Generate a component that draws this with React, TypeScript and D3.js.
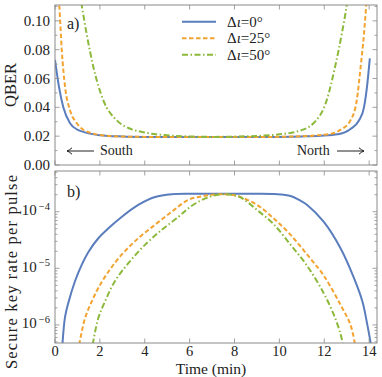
import React from 'react';
import * as d3 from 'd3';

// axis ticks
const timeTicks = [0, 2, 4, 6, 8, 10, 12, 14];
const qberTicks = [0, 0.02, 0.04, 0.06, 0.08, 0.1];
const qberMinor = [0.01, 0.03, 0.05, 0.07, 0.09, 0.11];
const rateExps = [-6, -5, -4];

// legend
const legendAngles = ['0°', '25°', '50°'];
const colors = ['#5a7dbd', '#f2a330', '#8cb93b'];
const dashes = [null, '4.5,2.5', '6,2.5,1.5,2.5'];

// panel a) QBER vs time, [min, QBER]
const qber0: [number, number][] = [
  [0, 0.073], [0.18, 0.054], [0.37, 0.04], [0.67, 0.029], [1.0, 0.0245], [1.3, 0.0228],
  [2.0, 0.0207], [3.0, 0.0198], [4.0, 0.0195], [5.5, 0.0194], [7.0, 0.0194], [8.5, 0.0194],
  [10.0, 0.0195], [11.0, 0.0198], [11.85, 0.0203], [12.6, 0.0213], [13.17, 0.025],
  [13.55, 0.031], [13.77, 0.04], [13.92, 0.0565], [14.03, 0.074],
];
const qber25: [number, number][] = [
  [0.1, 0.13], [0.19, 0.111], [0.3, 0.08], [0.45, 0.054], [0.67, 0.038], [0.97, 0.029],
  [1.56, 0.0224], [2.45, 0.0201], [3.5, 0.0196], [5.0, 0.0194], [7.0, 0.0194], [9.0, 0.0194],
  [10.5, 0.0197], [11.83, 0.0208], [12.4, 0.022], [12.73, 0.0245], [13.17, 0.031],
  [13.45, 0.045], [13.62, 0.068], [13.77, 0.091], [13.87, 0.111], [13.96, 0.13],
];
const qber50: [number, number][] = [
  [1.0, 0.13], [1.19, 0.111], [1.41, 0.091], [1.71, 0.068], [2.15, 0.045], [2.75, 0.031],
  [3.3, 0.0255], [3.85, 0.023], [5.0, 0.0206], [6.0, 0.0198], [7.0, 0.0195], [8.0, 0.0197],
  [9.0, 0.0202], [10.0, 0.0213], [10.78, 0.0232], [11.52, 0.029], [12.11, 0.045],
  [12.48, 0.068], [12.78, 0.091], [13.0, 0.111], [13.15, 0.13],
];

// panel b) secure key rate per pulse vs time, [min, rate]
const rate0: [number, number][] = [
  [0.33, 4.5e-7], [0.45, 1.4e-6], [0.6, 2.5e-6], [0.89, 5.9e-6], [1.19, 1.15e-5],
  [1.49, 1.95e-5], [1.93, 3.4e-5], [2.38, 5.1e-5], [2.97, 8.1e-5], [3.71, 1.32e-4],
  [4.46, 1.82e-4], [5.2, 2.04e-4], [6.0, 2.08e-4], [7.0, 2.08e-4], [8.0, 2.08e-4],
  [9.0, 2.08e-4], [9.8, 2.05e-4], [10.5, 1.9e-4], [10.9, 1.6e-4], [11.24, 1.32e-4],
  [11.98, 6.6e-5], [12.73, 2.24e-5], [13.32, 6.8e-6], [13.7, 2.6e-6], [13.92, 1.0e-6],
  [14.08, 4.5e-7],
];
const rate25: [number, number][] = [
  [1.08, 4.5e-7], [1.34, 1.32e-6], [1.64, 2.6e-6], [1.93, 4.5e-6], [2.38, 8.7e-6],
  [2.97, 1.74e-5], [3.71, 3.4e-5], [4.46, 5.9e-5], [5.2, 1.0e-4], [5.94, 1.62e-4],
  [6.5, 1.86e-4], [7.0, 2.0e-4], [7.5, 2.04e-4], [8.0, 1.95e-4], [8.26, 1.82e-4],
  [9.01, 1.32e-4], [9.75, 7.6e-5], [10.5, 3.9e-5], [11.24, 1.74e-5], [11.98, 7.4e-6],
  [12.73, 2.24e-6], [13.17, 1.0e-6], [13.37, 4.5e-7],
];
const rate50: [number, number][] = [
  [1.68, 4.5e-7], [1.93, 1.32e-6], [2.23, 2.6e-6], [2.67, 5.9e-6], [3.27, 1.23e-5],
  [4.01, 2.6e-5], [4.76, 4.8e-5], [5.5, 8.1e-5], [5.94, 1.15e-4], [6.5, 1.58e-4],
  [7.0, 1.9e-4], [7.5, 2.04e-4], [8.0, 1.95e-4], [8.29, 1.78e-4], [9.01, 1.07e-4],
  [9.75, 6.0e-5], [10.5, 2.6e-5], [11.24, 1.1e-5], [11.98, 3.6e-6], [12.43, 1.5e-6],
  [12.73, 6.8e-7], [12.83, 4.5e-7],
];

const W = 382;
const H = 377;
const font = '"Liberation Serif", "DejaVu Serif", serif';
const frameColor = '#8a8a8a';

export default function App() {
  const x = d3.scaleLinear().domain([0, 14.35]).range([55, 377]);
  const yA = d3.scaleLinear().domain([0, 0.111]).range([165, 5]);
  const yB = d3.scaleLog().domain([Math.pow(10, -6.32), Math.pow(10, -3.28)]).range([343, 171]);

  const lineA = d3.line<[number, number]>()
    .x(d => x(d[0]))
    .y(d => yA(d[1]))
    .curve(d3.curveMonotoneX);
  const lineB = d3.line<[number, number]>()
    .x(d => x(d[0]))
    .y(d => yB(d[1]))
    .curve(d3.curveCatmullRom.alpha(0.5));

  const qberSeries = [qber0, qber25, qber50];
  const rateSeries = [rate0, rate25, rate50];

  const [ax0, ax1] = x.range();
  const [aBot, aTop] = yA.range();
  const [bBot, bTop] = yB.range();

  // minor log ticks 2..9 per decade
  const rateMinor: number[] = [];
  for (let e = -7; e <= -4; e++) {
    for (let m = 2; m <= 9; m++) {
      const v = m * Math.pow(10, e);
      if (v > yB.domain()[0] && v < yB.domain()[1]) rateMinor.push(v);
    }
  }

  const tick = (key: string, x1: number, y1: number, x2: number, y2: number) => (
    <line key={key} x1={x1} y1={y1} x2={x2} y2={y2} stroke={frameColor} strokeWidth={0.8} />
  );

  const arrow = (x1: number, x2: number, y: number) => {
    const d = x2 > x1 ? 1 : -1;
    return (
      <g stroke="#222" strokeWidth={1} fill="none">
        <line x1={x1} y1={y} x2={x2} y2={y} />
        <path d={`M${x2 - d * 5},${y - 3.2} Q${x2 - d * 2},${y - 0.5} ${x2},${y} Q${x2 - d * 2},${y + 0.5} ${x2 - d * 5},${y + 3.2}`} />
      </g>
    );
  };

  return (
    <svg width={W} height={H} style={{ position: 'absolute', left: 0, top: 0, background: '#fff' }}
      fontFamily={font}>
      <defs>
        <clipPath id="clipA"><rect x={ax0} y={aTop} width={ax1 - ax0} height={aBot - aTop} /></clipPath>
        <clipPath id="clipB"><rect x={ax0} y={bTop} width={ax1 - ax0} height={bBot - bTop} /></clipPath>
      </defs>

      {/* panel a */}
      <g clipPath="url(#clipA)">
        {qberSeries.map((s, i) => (
          <path key={i} d={lineA(s) || ''} fill="none" stroke={colors[i]} strokeWidth={2}
            strokeDasharray={dashes[i] || undefined} />
        ))}
      </g>
      <rect x={ax0} y={aTop} width={ax1 - ax0} height={aBot - aTop} fill="none" stroke={frameColor} strokeWidth={1} />
      {timeTicks.map(t => (
        <g key={'ta' + t}>
          {tick('b', x(t), aBot, x(t), aBot - 4.5)}
          {tick('t', x(t), aTop, x(t), aTop + 4.5)}
        </g>
      ))}
      {qberTicks.map(v => (
        <g key={'qa' + v}>
          {tick('l', ax0, yA(v), ax0 + 4.5, yA(v))}
          {tick('r', ax1, yA(v), ax1 - 4.5, yA(v))}
          <text x={50} y={yA(v) + 5} textAnchor="end" fontSize={15} fill="#222">{v.toFixed(2)}</text>
        </g>
      ))}
      {qberMinor.map(v => (
        <g key={'qm' + v}>
          {tick('l', ax0, yA(v), ax0 + 2.5, yA(v))}
          {tick('r', ax1, yA(v), ax1 - 2.5, yA(v))}
        </g>
      ))}
      <text transform="translate(16,85) rotate(-90)" textAnchor="middle" fontSize={16.5} fill="#222">QBER</text>
      <text x={67} y={29} fontSize={16} fill="#222">a)</text>

      {/* legend */}
      {legendAngles.map((a, i) => (
        <g key={'lg' + i}>
          <line x1={182} x2={216} y1={21.7 + i * 16.5} y2={21.7 + i * 16.5} stroke={colors[i]} strokeWidth={2}
            strokeDasharray={dashes[i] || undefined} />
          <text x={227} y={26.5 + i * 16.5} fontSize={15} fill="#222">
            Δ<tspan fontStyle="italic">ι</tspan>={a}
          </text>
        </g>
      ))}

      {/* direction labels */}
      {arrow(94, 67, 151)}
      <text x={100} y={155} fontSize={14} fill="#222">South</text>
      <text x={297} y={155} fontSize={14} fill="#222">North</text>
      {arrow(337, 364, 151)}

      {/* panel b */}
      <g clipPath="url(#clipB)">
        {rateSeries.map((s, i) => (
          <path key={i} d={lineB(s) || ''} fill="none" stroke={colors[i]} strokeWidth={2}
            strokeDasharray={dashes[i] || undefined} />
        ))}
      </g>
      <rect x={ax0} y={bTop} width={ax1 - ax0} height={bBot - bTop} fill="none" stroke={frameColor} strokeWidth={1} />
      {timeTicks.map(t => (
        <g key={'tb' + t}>
          {tick('b', x(t), bBot, x(t), bBot - 4.5)}
          {tick('t', x(t), bTop, x(t), bTop + 4.5)}
          <text x={x(t)} y={355.5} textAnchor="middle" fontSize={14.5} fill="#222">{t}</text>
        </g>
      ))}
      {rateExps.map(e => {
        const v = Math.pow(10, e);
        return (
          <g key={'rb' + e}>
            {tick('l', ax0, yB(v), ax0 + 4.5, yB(v))}
            {tick('r', ax1, yB(v), ax1 - 4.5, yB(v))}
            <text x={50} y={yB(v) + 3.5} textAnchor="end" fontSize={15} fill="#222">
              10<tspan dy={-5.5} fontSize={10.5} dx={2}>{'−' + Math.abs(e)}</tspan>
            </text>
          </g>
        );
      })}
      {rateMinor.map((v, i) => (
        <g key={'rm' + i}>
          {tick('l', ax0, yB(v), ax0 + 2.5, yB(v))}
          {tick('r', ax1, yB(v), ax1 - 2.5, yB(v))}
        </g>
      ))}
      <text transform="translate(16.5,272) rotate(-90)" textAnchor="middle" fontSize={16.5} fill="#222"
        textLength={194} lengthAdjust="spacing">Secure key rate per pulse</text>
      <text x={67} y={197} fontSize={16} fill="#222">b)</text>
      <text x={211} y={374} textAnchor="middle" fontSize={15.5} fill="#222">Time (min)</text>
    </svg>
  );
}
